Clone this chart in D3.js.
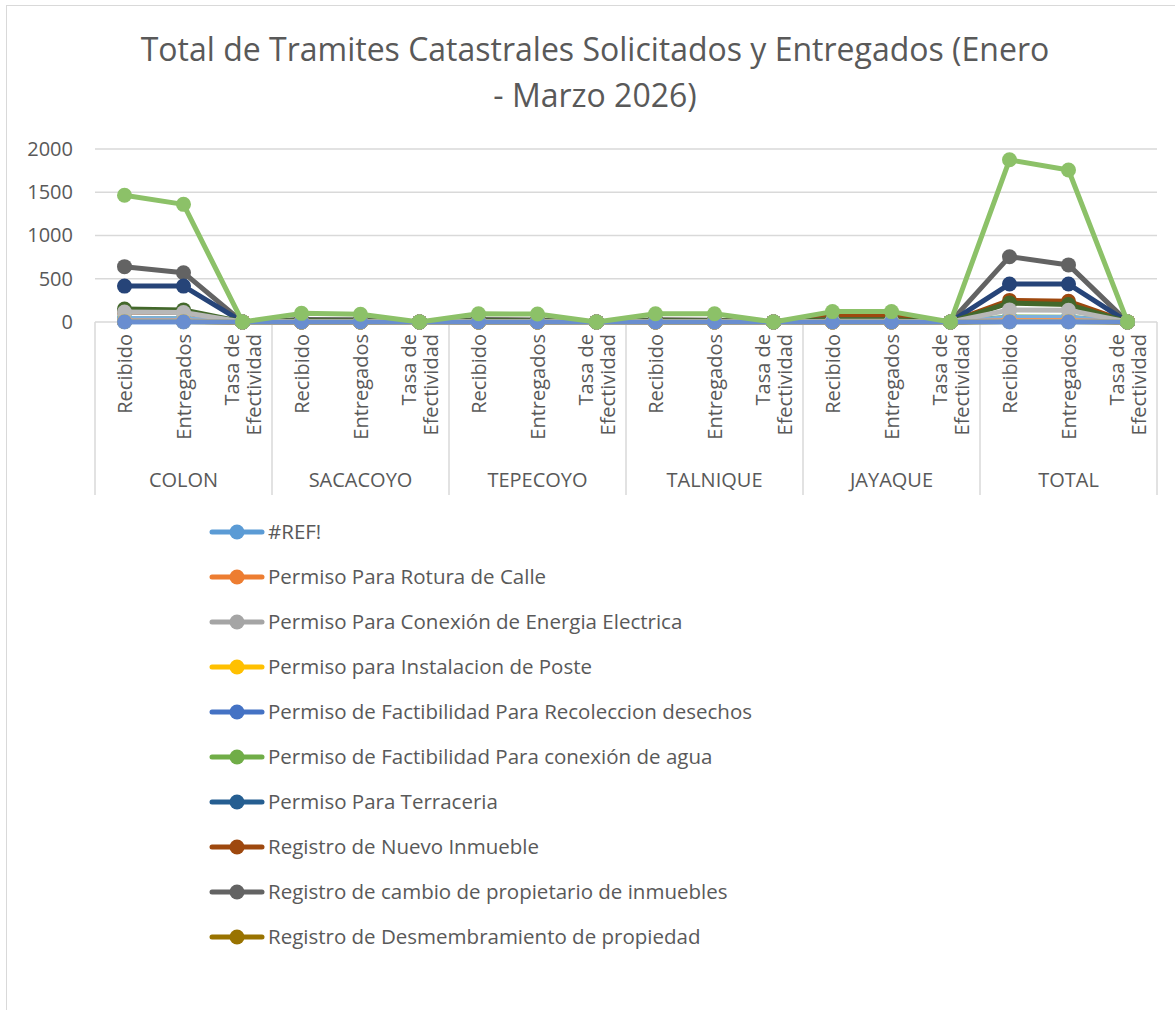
<!doctype html>
<html lang="es">
<head>
<meta charset="utf-8">
<title>Total de Tramites Catastrales</title>
<style>
  body { margin: 0; background: #fff; }
  svg text { font-family: "Open Sans", "Noto Sans", sans-serif; fill: #595959; }
</style>
<script src="https://d3js.org/d3.v7.min.js"></script>
</head>
<body>
<div id="chart"></div>
<script>
// municipios y subcategorias del eje x
var groups = ["COLON", "SACACOYO", "TEPECOYO", "TALNIQUE", "JAYAQUE", "TOTAL"];
var subcats = ["Recibido", "Entregados", "Tasa de Efectividad"];
var yTicks = [0, 500, 1000, 1500, 2000];

// nombres de la leyenda (solo se muestran las 10 primeras series)
var legendNames = [
  "#REF!",
  "Permiso Para Rotura de Calle",
  "Permiso Para Conexión de Energia Electrica",
  "Permiso para Instalacion de Poste",
  "Permiso de Factibilidad Para Recoleccion desechos",
  "Permiso de Factibilidad Para conexión de agua",
  "Permiso Para Terraceria",
  "Registro de Nuevo Inmueble",
  "Registro de cambio de propietario de inmuebles",
  "Registro de Desmembramiento de propiedad"
];

// colores de excel, series 1..18
var seriesColors = ["#5B9BD5", "#ED7D31", "#A5A5A5", "#FFC000", "#4472C4", "#70AD47",
  "#255E91", "#9E480E", "#636363", "#997300", "#264478", "#43682B",
  "#7CAFDD", "#F1975A", "#B7B7B7", "#FFCD33", "#698ED0", "#8CC168"];

// valores (18 puntos por serie)
var s1  = [2, 2, 0, 0, 0, 0, 0, 0, 0, 0, 0, 0, 0, 0, 0, 2, 2, 0];
var s2  = [20, 18, 1, 2, 2, 1, 2, 2, 1, 2, 2, 1, 2, 2, 1, 28, 26, 1];
var s3  = [30, 28, 1, 2, 2, 1, 2, 2, 1, 2, 2, 1, 3, 3, 1, 39, 37, 1];
var s4  = [5, 5, 1, 0, 0, 0, 0, 0, 0, 0, 0, 0, 0, 0, 0, 5, 5, 1];
var s5  = [10, 10, 1, 1, 1, 1, 1, 1, 1, 1, 1, 1, 1, 1, 1, 14, 14, 1];
var s6  = [40, 38, 1, 4, 4, 1, 4, 4, 1, 4, 4, 1, 5, 5, 1, 57, 55, 1];
var s7  = [15, 15, 1, 1, 1, 1, 1, 1, 1, 1, 1, 1, 2, 2, 1, 20, 20, 1];
var s8  = [115, 110, 1, 20, 18, 1, 20, 18, 1, 20, 18, 1, 75, 76, 1, 250, 240, 1];
var s9  = [640, 570, 1, 30, 25, 1, 28, 22, 1, 27, 20, 1, 30, 23, 1, 755, 660, 1];
var s10 = [8, 8, 1, 1, 1, 1, 1, 1, 1, 1, 1, 1, 1, 1, 1, 12, 12, 1];
var s11 = [415, 415, 1, 6, 6, 1, 6, 6, 1, 6, 6, 1, 6, 6, 1, 439, 439, 1];
var s12 = [150, 140, 1, 15, 12, 1, 15, 12, 1, 15, 12, 1, 25, 25, 1, 220, 201, 1];
var s13 = [40, 38, 1, 3, 3, 1, 3, 3, 1, 3, 3, 1, 4, 4, 1, 53, 51, 1];
var s14 = [12, 12, 1, 1, 1, 1, 1, 1, 1, 1, 1, 1, 1, 1, 1, 16, 16, 1];
var s15 = [115, 110, 1, 5, 5, 1, 5, 5, 1, 5, 5, 1, 10, 10, 1, 140, 135, 1];
var s16 = [6, 6, 1, 0, 0, 0, 0, 0, 0, 0, 0, 0, 0, 0, 0, 6, 6, 1];
var s17 = [3, 3, 0, 0, 0, 0, 0, 0, 0, 0, 0, 0, 0, 0, 0, 3, 3, 0];
var s18 = [1465, 1360, 1, 100, 90, 1, 95, 92, 1, 95, 95, 1, 120, 120, 1, 1875, 1757, 1];
var seriesValues = [s1, s2, s3, s4, s5, s6, s7, s8, s9, s10, s11, s12, s13, s14, s15, s16, s17, s18];

var width = 1175, height = 1010;
var plotLeft = 95, plotRight = 1157, plotTop = 149, plotBottom = 322;

// lista de categorias: municipio|subcategoria
var categories = [];
groups.forEach(function(g) {
  subcats.forEach(function(s) { categories.push(g + "|" + s); });
});

var svg = d3.select("#chart").append("svg")
  .attr("width", width)
  .attr("height", height);

// borde del area del grafico
svg.append("rect")
  .attr("x", 6.5).attr("y", 5.5)
  .attr("width", width + 10).attr("height", height + 10)
  .attr("fill", "none")
  .attr("stroke", "#d9d9d9");

// titulo
var title = svg.append("text")
  .attr("text-anchor", "middle")
  .attr("font-size", "32px");
title.append("tspan").attr("x", 595).attr("y", 61)
  .text("Total de Tramites Catastrales Solicitados y Entregados (Enero");
title.append("tspan").attr("x", 595).attr("y", 107)
  .text("- Marzo 2026)");

var x = d3.scalePoint()
  .domain(categories)
  .range([plotLeft, plotRight])
  .padding(0.5);

var xGroup = d3.scaleBand()
  .domain(groups)
  .range([plotLeft, plotRight]);

var y = d3.scaleLinear()
  .domain([0, 2000])
  .range([plotBottom, plotTop]);

// lineas de cuadricula
svg.append("g").selectAll("line")
  .data(yTicks)
  .enter().append("line")
  .attr("x1", plotLeft).attr("x2", plotRight)
  .attr("y1", function(d) { return y(d); })
  .attr("y2", function(d) { return y(d); })
  .attr("stroke", "#d9d9d9")
  .attr("stroke-width", 1.5);

// eje y
var yAxis = d3.axisLeft(y).tickValues(yTicks).tickSize(0).tickPadding(0).tickFormat(d3.format("d"));
var yg = svg.append("g")
  .attr("transform", "translate(73,0)")
  .call(yAxis);
yg.select(".domain").remove();
yg.selectAll("text")
  .attr("font-size", "20px")
  .attr("font-family", "Open Sans, sans-serif")
  .attr("fill", "#595959");

// separadores verticales de los municipios
var seps = groups.map(function(g) { return xGroup(g); }).concat([plotRight]);
svg.append("g").selectAll("line")
  .data(seps)
  .enter().append("line")
  .attr("x1", function(d) { return d; })
  .attr("x2", function(d) { return d; })
  .attr("y1", plotBottom).attr("y2", 495)
  .attr("stroke", "#d9d9d9")
  .attr("stroke-width", 1.5);

// etiquetas de subcategoria (rotadas)
var catLabels = svg.append("g").selectAll("g")
  .data(categories)
  .enter().append("g")
  .attr("transform", function(d) { return "translate(" + x(d) + ",334) rotate(-90)"; });
catLabels.each(function(d) {
  var name = d.split("|")[1];
  var t = d3.select(this).append("text")
    .attr("text-anchor", "end")
    .attr("font-size", "20px");
  if (name == "Tasa de Efectividad") {
    t.append("tspan").attr("x", 0).attr("dy", "-0.2em").text("Tasa de");
    t.append("tspan").attr("x", 0).attr("dy", "1.1em").text("Efectividad");
  } else {
    t.attr("dy", "0.35em").text(name);
  }
});

// etiquetas de municipio
svg.append("g").selectAll("text")
  .data(groups)
  .enter().append("text")
  .attr("x", function(d) { return xGroup(d) + xGroup.bandwidth() / 2; })
  .attr("y", 487)
  .attr("text-anchor", "middle")
  .attr("font-size", "20px")
  .text(function(d) { return d; });

// lineas y marcadores
var line = d3.line()
  .x(function(d, i) { return x(categories[i]); })
  .y(function(d) { return y(d); });

var seriesG = svg.append("g").selectAll("g")
  .data(seriesValues)
  .enter().append("g");

seriesG.append("path")
  .attr("d", function(d) { return line(d); })
  .attr("fill", "none")
  .attr("stroke", function(d, i) { return seriesColors[i]; })
  .attr("stroke-width", 5)
  .attr("stroke-linejoin", "round");

seriesG.each(function(vals, si) {
  d3.select(this).selectAll("circle")
    .data(vals)
    .enter().append("circle")
    .attr("cx", function(d, i) { return x(categories[i]); })
    .attr("cy", function(d) { return y(d); })
    .attr("r", 7.5)
    .attr("fill", seriesColors[si]);
});

// leyenda
var legend = svg.append("g").selectAll("g")
  .data(legendNames)
  .enter().append("g")
  .attr("transform", function(d, i) { return "translate(0," + (532 + i * 45) + ")"; });

legend.append("line")
  .attr("x1", 212).attr("x2", 262)
  .attr("stroke", function(d, i) { return seriesColors[i]; })
  .attr("stroke-width", 5)
  .attr("stroke-linecap", "round");
legend.append("circle")
  .attr("cx", 237).attr("r", 7.5)
  .attr("fill", function(d, i) { return seriesColors[i]; });
legend.append("text")
  .attr("x", 268)
  .attr("dy", "0.35em")
  .attr("font-size", "20.5px")
  .text(function(d) { return d; });
</script>
</body>
</html>
